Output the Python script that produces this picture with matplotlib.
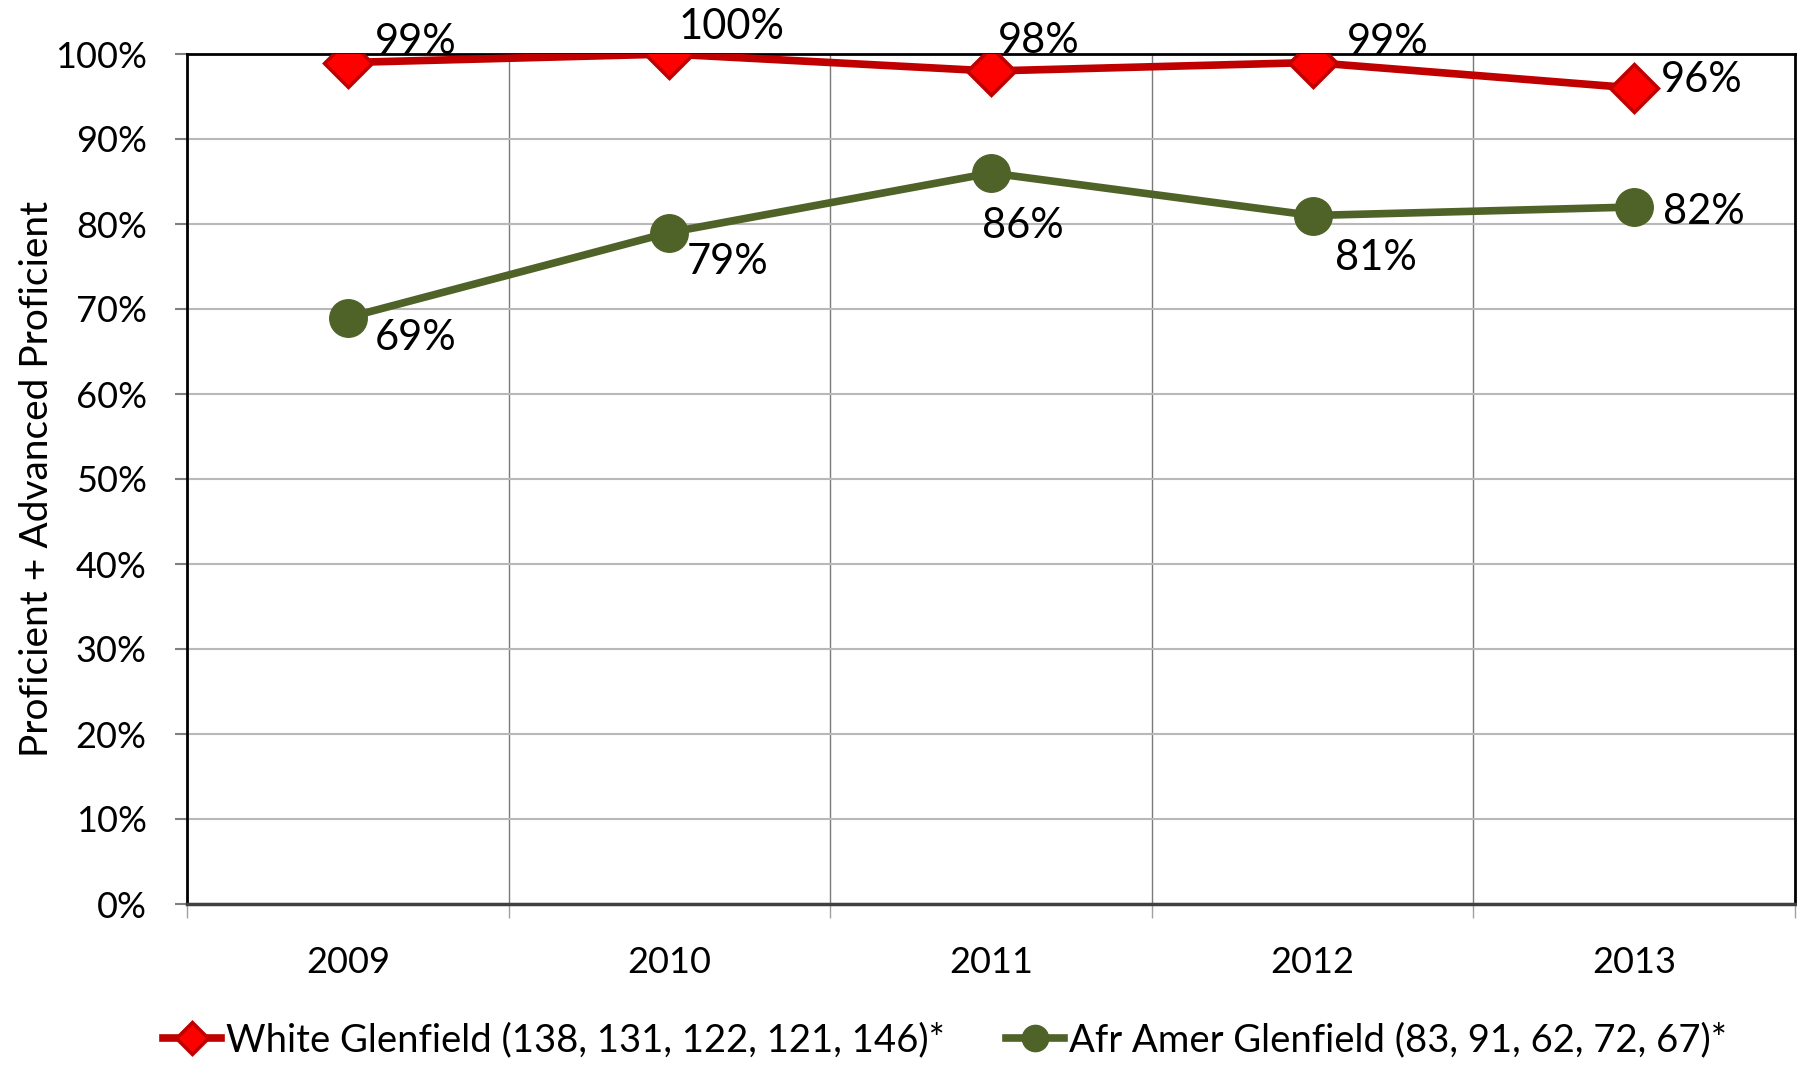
import matplotlib
matplotlib.use("Agg")
import matplotlib.pyplot as plt
from matplotlib.ticker import FixedLocator, NullFormatter

years = ["2009", "2010", "2011", "2012", "2013"]
white = [99, 100, 98, 99, 96]
afr_amer = [69, 79, 86, 81, 82]
white_name = "White Glenfield (138, 131, 122, 121, 146)*"
afr_amer_name = "Afr Amer Glenfield (83, 91, 62, 72, 67)*"

plt.rcParams['font.family'] = ['Lato', 'DejaVu Sans']

red_line = "#C00000"
red_face = "#FF0000"
green = "#4F6228"

fig = plt.figure(figsize=(17.97, 10.68), dpi=100)
ax = fig.add_axes([187/1797, 1 - 904/1068, 1608/1797, 850/1068])

xs = [i + 0.5 for i in range(len(years))]

ax.plot(xs, white, color=red_line, lw=5.5, marker="D", markersize=24,
        markerfacecolor=red_face, markeredgecolor=red_line, markeredgewidth=2.5,
        label=white_name, zorder=4)
ax.plot(xs, afr_amer, color=green, lw=5.5, marker="o", markersize=27,
        markerfacecolor=green, markeredgecolor=green,
        label=afr_amer_name, zorder=4)

# label offsets in pixels (dx, dy), text anchored left/center
white_off = [(27, 20), (9, 27), (7, 30), (34, 20), (27, 8)]
green_off = [(27, -21), (17, -30), (-9, -53), (22, -42), (29, -5)]
for x, v, (dx, dy) in zip(xs, white, white_off):
    ax.annotate(f"{v}%", (x, v), xytext=(dx, dy), textcoords="offset pixels",
                ha="left", va="center", fontsize=30, zorder=5, annotation_clip=False)
for x, v, (dx, dy) in zip(xs, afr_amer, green_off):
    ax.annotate(f"{v}%", (x, v), xytext=(dx, dy), textcoords="offset pixels",
                ha="left", va="center", fontsize=30, zorder=5, annotation_clip=False)

ax.set_xlim(0, 5)
ax.set_ylim(0, 100)

ax.set_yticks(range(0, 101, 10))
ax.set_yticklabels([f"{v}%" for v in range(0, 101, 10)], fontsize=26)
ax.tick_params(axis="y", length=9, width=1.5, color="#808080", pad=20)

ax.xaxis.set_major_locator(FixedLocator(range(0, 6)))
ax.xaxis.set_major_formatter(NullFormatter())
ax.xaxis.set_minor_locator(FixedLocator(xs))
ax.set_xticklabels(years, minor=True, fontsize=26)
ax.tick_params(axis="x", which="major", length=10, width=1, color="#A0A0A0")
ax.tick_params(axis="x", which="minor", length=0, pad=30)

ax.grid(axis="y", color="#B8B8B8", lw=1.5, zorder=0)
ax.grid(axis="x", which="major", color="#7A7A7A", lw=1, zorder=0)

for side in ["top", "right", "left"]:
    ax.spines[side].set_color("black")
    ax.spines[side].set_linewidth(2)
ax.spines["bottom"].set_color("#404040")
ax.spines["bottom"].set_linewidth(2.5)

ax.set_ylabel("Proficient + Advanced Proficient", fontsize=28)
ax.yaxis.set_label_coords(-0.082, 0.5)

fig.legend(loc="center", bbox_to_anchor=(0.526, 0.026), ncol=2, frameon=False,
           fontsize=27.5, handlelength=1.5, handletextpad=0.15, columnspacing=1.6,
           markerscale=0.7)

fig.savefig("out.png", dpi=100)
